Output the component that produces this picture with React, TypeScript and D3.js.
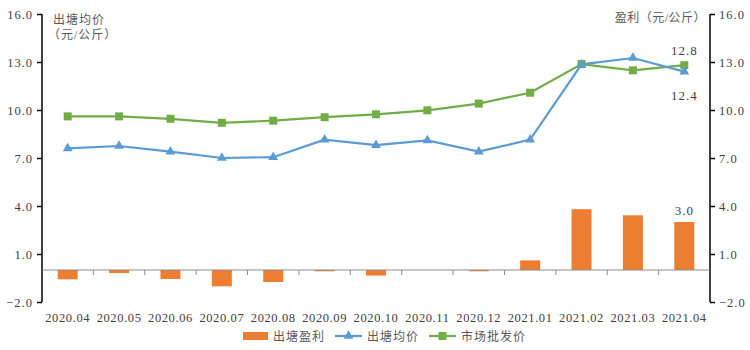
import React, { useEffect, useRef } from 'react';
import * as d3 from 'd3';

const months = ['2020.04', '2020.05', '2020.06', '2020.07', '2020.08', '2020.09', '2020.10', '2020.11', '2020.12', '2021.01', '2021.02', '2021.03', '2021.04'];
const profit = [-0.58, -0.19, -0.56, -1.02, -0.75, -0.08, -0.35, 0, -0.08, 0.6, 3.8, 3.42, 3.0];
const pondPrice = [7.6, 7.75, 7.4, 7.0, 7.05, 8.15, 7.8, 8.1, 7.4, 8.15, 12.85, 13.25, 12.4];
const wholesale = [9.6, 9.6, 9.45, 9.2, 9.33, 9.55, 9.73, 9.98, 10.4, 11.08, 12.87, 12.48, 12.8];
const yTicks = [-2, 1, 4, 7, 10, 13, 16];

const ORANGE = '#ED7D31';
const BLUE = '#5B9BD5';
const GREEN = '#70AD47';
const FONT = '"Liberation Serif", "Noto Sans CJK SC", serif';

export default function App() {
  const ref = useRef<SVGSVGElement | null>(null);

  useEffect(() => {
    document.body.style.margin = '0';
    if (!ref.current) return;
    const width = 750;
    const height = 350;
    const left = 42;
    const right = 710;
    const top = 14;
    const bottom = 302;

    const svg = d3.select(ref.current);
    svg.selectAll('*').remove();
    svg.attr('viewBox', `0 0 ${width} ${height}`).style('font-family', FONT);

    const x = d3.scaleBand<string>().domain(months).range([left, right]).padding(0);
    const y = d3.scaleLinear().domain([-2, 16]).range([bottom, top]);
    const cx = (i: number) => x(months[i])! + x.bandwidth() / 2;

    // both value axes share the same scale
    const leftAxis = svg.append('g')
      .attr('transform', `translate(${left},0)`)
      .call(d3.axisLeft(y).tickValues(yTicks).tickSize(5).tickPadding(4).tickFormat(d => d3.format('.1f')(Number(d))));
    const rightAxis = svg.append('g')
      .attr('transform', `translate(${right},0)`)
      .call(d3.axisRight(y).tickValues(yTicks).tickSize(5).tickPadding(4).tickFormat(d => d3.format('.1f')(Number(d))));
    [leftAxis, rightAxis].forEach(a => {
      a.select('.domain').remove();
      a.selectAll('line').attr('stroke', '#000').attr('stroke-width', 1.5);
      a.selectAll('text').attr('font-size', 12.5).attr('fill', '#404040').attr('font-family', FONT).attr('letter-spacing', 1);
    });
    svg.append('line').attr('x1', left).attr('x2', left).attr('y1', top).attr('y2', bottom).attr('stroke', '#000').attr('stroke-width', 1.5);
    svg.append('line').attr('x1', right).attr('x2', right).attr('y1', top).attr('y2', bottom).attr('stroke', '#000').attr('stroke-width', 1.5);

    // bars
    const barW = 20;
    svg.selectAll('.bar')
      .data(profit)
      .enter()
      .append('rect')
      .attr('class', 'bar')
      .attr('x', (_, i) => cx(i) - barW / 2)
      .attr('y', d => y(Math.max(0, d)))
      .attr('width', barW)
      .attr('height', d => Math.abs(y(d) - y(0)))
      .attr('fill', ORANGE);

    // zero line + category ticks
    svg.append('line').attr('x1', left).attr('x2', right).attr('y1', y(0)).attr('y2', y(0)).attr('stroke', '#8c8c8c').attr('stroke-width', 1.2);
    svg.selectAll('.ctick')
      .data(months.slice(1))
      .enter()
      .append('line')
      .attr('x1', d => x(d)!)
      .attr('x2', d => x(d)!)
      .attr('y1', y(0))
      .attr('y2', y(0) + 5)
      .attr('stroke', '#8c8c8c');

    // lines
    const line = d3.line<number>().x((_, i) => cx(i)).y(d => y(d));
    svg.append('path').datum(wholesale).attr('d', line).attr('fill', 'none').attr('stroke', GREEN).attr('stroke-width', 2.2);
    svg.append('path').datum(pondPrice).attr('d', line).attr('fill', 'none').attr('stroke', BLUE).attr('stroke-width', 2.2);

    svg.selectAll('.sq')
      .data(wholesale)
      .enter()
      .append('rect')
      .attr('x', (_, i) => cx(i) - 4)
      .attr('y', d => y(d) - 4)
      .attr('width', 8)
      .attr('height', 8)
      .attr('fill', GREEN);
    const tri = d3.symbol().type(d3.symbolTriangle).size(42);
    svg.selectAll('.tri')
      .data(pondPrice)
      .enter()
      .append('path')
      .attr('d', tri)
      .attr('transform', (d, i) => `translate(${cx(i)},${y(d)})`)
      .attr('fill', BLUE);

    // data labels on the last month
    const last = months.length - 1;
    const labels = [
      { t: '12.8', y: y(wholesale[last]) - 10 },
      { t: '12.4', y: y(pondPrice[last]) + 28 },
      { t: '3.0', y: y(profit[last]) - 7 },
    ];
    svg.selectAll('.dl')
      .data(labels)
      .enter()
      .append('text')
      .attr('x', cx(last))
      .attr('y', d => d.y)
      .attr('text-anchor', 'middle')
      .attr('font-size', 13)
      .attr('letter-spacing', 1)
      .attr('fill', '#404040')
      .text(d => d.t);

    // x labels
    svg.selectAll('.xl')
      .data(months)
      .enter()
      .append('text')
      .attr('x', (_, i) => cx(i))
      .attr('y', 322)
      .attr('text-anchor', 'middle')
      .attr('font-size', 12.5)
      .attr('letter-spacing', 0.6)
      .attr('fill', '#404040')
      .text(d => d);

    // axis titles
    svg.append('text').attr('x', 53).attr('y', 24).attr('font-size', 12).attr('fill', '#595959').attr('letter-spacing', 1).text('出塘均价');
    svg.append('text').attr('x', 48).attr('y', 39).attr('font-size', 12).attr('fill', '#595959').attr('letter-spacing', 1).text('（元/公斤）');
    svg.append('text').attr('x', 706).attr('y', 22).attr('text-anchor', 'end').attr('font-size', 12).attr('fill', '#595959').attr('letter-spacing', 0.5).text('盈利（元/公斤）');

    // legend
    const lg = svg.append('g').attr('font-size', 12).attr('fill', '#595959');
    lg.append('rect').attr('x', 243).attr('y', 332).attr('width', 25).attr('height', 8).attr('fill', ORANGE);
    lg.append('text').attr('x', 273).attr('y', 341).attr('letter-spacing', 1).text('出塘盈利');
    lg.append('line').attr('x1', 335).attr('x2', 362).attr('y1', 336).attr('y2', 336).attr('stroke', BLUE).attr('stroke-width', 2.2);
    lg.append('path').attr('d', tri).attr('transform', 'translate(348.5,336)').attr('fill', BLUE);
    lg.append('text').attr('x', 367).attr('y', 341).attr('letter-spacing', 1).text('出塘均价');
    lg.append('line').attr('x1', 429).attr('x2', 456).attr('y1', 336).attr('y2', 336).attr('stroke', GREEN).attr('stroke-width', 2.2);
    lg.append('rect').attr('x', 438.5).attr('y', 332).attr('width', 8).attr('height', 8).attr('fill', GREEN);
    lg.append('text').attr('x', 461).attr('y', 341).attr('letter-spacing', 1).text('市场批发价');
  }, []);

  return <svg ref={ref} width={750} height={350} style={{ display: 'block' }}></svg>;
}
